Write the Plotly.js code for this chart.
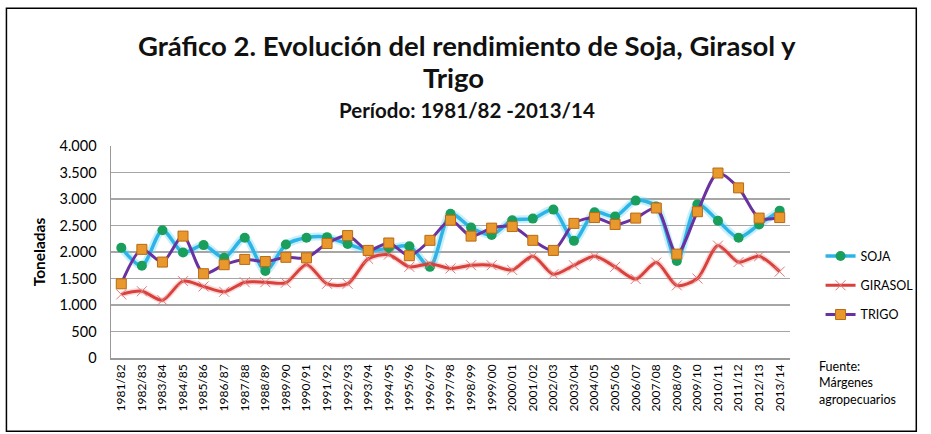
<!DOCTYPE html>
<html><head><meta charset="utf-8">
<script src="https://cdn.plot.ly/plotly-3.0.1.min.js"></script>
<style>html,body{margin:0;padding:0;background:#fff}#c{width:931px;height:434px}</style>
</head><body><div id="c"></div>
<script>
const campanas = ["1981/82","1982/83","1983/84","1984/85","1985/86","1986/87","1987/88","1988/89","1989/90","1990/91","1991/92","1992/93","1993/94","1994/95","1995/96","1996/97","1997/98","1998/99","1999/00","2000/01","2001/02","2002/03","2003/04","2004/05","2005/06","2006/07","2007/08","2008/09","2009/10","2010/11","2011/12","2012/13","2013/14"];
const soja = [2080,1740,2410,1990,2130,1890,2270,1640,2140,2270,2280,2150,2030,2070,2110,1720,2720,2460,2320,2600,2630,2800,2210,2750,2670,2970,2860,1830,2900,2590,2270,2520,2780];
const girasol = [1200,1260,1090,1450,1350,1250,1430,1430,1420,1760,1400,1400,1870,1950,1720,1780,1690,1750,1750,1660,1920,1580,1750,1920,1720,1490,1800,1370,1500,2120,1810,1920,1630];
const trigo = [1400,2050,1810,2300,1590,1760,1860,1820,1900,1890,2160,2310,2030,2170,1930,2220,2600,2300,2450,2480,2220,2030,2540,2650,2520,2640,2830,1960,2760,3490,3210,2640,2650];
const yTicks = [0,500,1000,1500,2000,2500,3000,3500,4000];

const font = "Lato, 'Open Sans', sans-serif";
const traces = [
  {x: campanas, y: soja, mode: 'lines', line: {color: 'rgba(100,210,245,0.35)', width: 8, shape: 'spline', smoothing: 0.8}, showlegend: false, hoverinfo: 'skip'},
  {x: campanas, y: girasol, mode: 'lines', line: {color: 'rgba(240,130,130,0.3)', width: 6, shape: 'spline', smoothing: 0.8}, showlegend: false, hoverinfo: 'skip'},
  {x: campanas, y: soja, name: 'SOJA', legendgroup: 'a', mode: 'lines+markers', line: {color: '#2cb4e6', width: 3.5, shape: 'spline', smoothing: 0.8}, marker: {symbol: 'circle', size: 10, color: '#1a9e5c', line: {width: 0}}},
  {x: campanas, y: girasol, name: 'GIRASOL', legendgroup: 'b', mode: 'lines+markers', line: {color: '#d9413d', width: 3, shape: 'spline', smoothing: 0.8}, marker: {symbol: 'x-thin', size: 10, color: '#e07a78', line: {width: 1, color: '#e07a78'}}},
  {x: campanas, y: trigo, name: 'TRIGO', legendgroup: 'c', mode: 'lines+markers', line: {color: '#6a32a0', width: 3, shape: 'spline', smoothing: 0.8}, marker: {symbol: 'square', size: 10, color: '#e8982c', line: {width: 1, color: '#b86a14'}}}
];

const layout = {
  width: 931, height: 434,
  margin: {l: 111, r: 133, t: 146, b: 76},
  paper_bgcolor: '#fff', plot_bgcolor: '#fff',
  separators: ',.',
  font: {family: font, color: '#000'},
  xaxis: {type: 'category', tickangle: -90, tickfont: {size: 12, family: font}, showgrid: false, showline: true, linecolor: '#999', linewidth: 1.5, ticks: '', range: [-0.5, 32.5]},
  yaxis: {range: [0, 4000], tickvals: yTicks, tickformat: ',d', tickfont: {size: 14.5, family: font}, ticklabelstandoff: 10, showgrid: true, gridcolor: '#a6a6a6', gridwidth: 1.5, showline: true, linecolor: '#999', linewidth: 1.5, zeroline: false, ticks: '',
          title: {text: '<b>Toneladas</b>', font: {size: 15.5, family: font}, standoff: 10}},
  legend: {x: 1.045, xanchor: 'left', y: 0.55, yanchor: 'top', font: {size: 12.5, family: font}, traceorder: 'grouped', tracegroupgap: 10, bgcolor: 'rgba(0,0,0,0)'},
  showlegend: true,
  annotations: [
    {xref: 'paper', yref: 'paper', x: 0.524, y: 1.476, xanchor: 'center', yanchor: 'middle', showarrow: false, text: '<b>Gráfico 2. Evolución del rendimiento de Soja, Girasol y</b>', font: {size: 27.5, family: font, color: '#111'}},
    {xref: 'paper', yref: 'paper', x: 0.505, y: 1.321, xanchor: 'center', yanchor: 'middle', showarrow: false, text: '<b>Trigo</b>', font: {size: 27.5, family: font, color: '#111'}},
    {xref: 'paper', yref: 'paper', x: 0.524, y: 1.170, xanchor: 'center', yanchor: 'middle', showarrow: false, text: '<b>Período: 1981/82 -2013/14</b>', font: {size: 20.5, family: font, color: '#111'}},
    {xref: 'paper', yref: 'paper', x: 1.04, y: 0.005, xanchor: 'left', yanchor: 'top', align: 'left', showarrow: false, text: 'Fuente:<br>Márgenes<br>agropecuarios', font: {size: 12.5, family: font}}
  ],
  shapes: [{type: 'rect', xref: 'paper', yref: 'paper', x0: -0.154, x1: 1.186, y0: -0.345, y1: 1.65, line: {color: '#000', width: 1.5}, fillcolor: 'rgba(0,0,0,0)', layer: 'below'}]
};
Plotly.newPlot('c', traces, layout, {displayModeBar: false, staticPlot: true});
</script></body></html>
